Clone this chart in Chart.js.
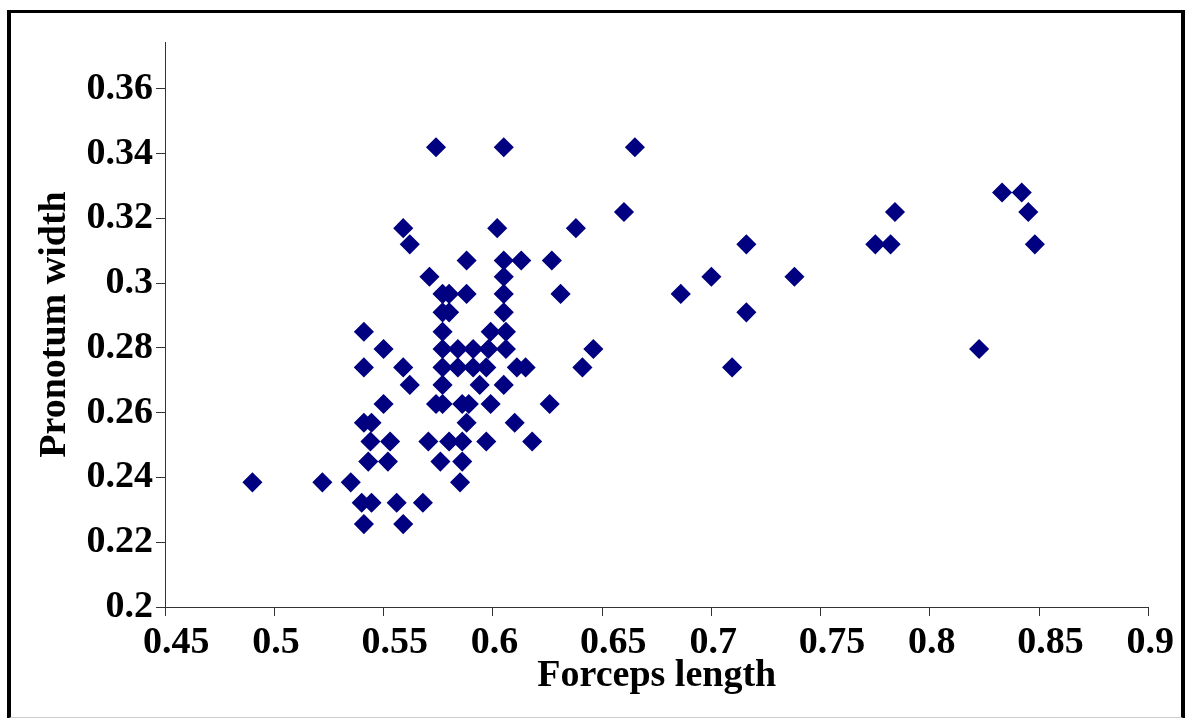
<!DOCTYPE html>
<html>
<head>
<meta charset="utf-8">
<script src="https://cdn.jsdelivr.net/npm/chart.js@4.4.1/dist/chart.umd.min.js"></script>
<style>
  html, body { margin: 0; padding: 0; background: #fff; }
  #wrap { position: relative; width: 1189px; height: 718px; overflow: hidden; }
  #frame {
    position: absolute; left: 7px; top: 10px; width: 1170px; height: 704px;
    border-left: 4px solid #000; border-top: 3px solid #000; border-right: 4px solid #000;
    border-bottom: 2px solid #ccc; pointer-events: none;
  }
</style>
</head>
<body>
<div id="wrap">
  <canvas id="scatter" width="1189" height="718"></canvas>
  <div id="frame"></div>
</div>
<script>
// values, paired by index
const forcepsLength = [
    0.574, 0.605, 0.665,
    0.660, 0.784, 0.845,
    0.833, 0.842,
    0.559, 0.602, 0.638,
    0.562, 0.716, 0.775, 0.782, 0.848,
    0.588, 0.605, 0.613, 0.627,
    0.571, 0.605, 0.700, 0.738,
    0.577, 0.580, 0.588, 0.605, 0.631, 0.686,
    0.577, 0.580, 0.605, 0.716,
    0.541, 0.577, 0.599, 0.606,
    0.550, 0.577, 0.584, 0.591, 0.598, 0.606, 0.646, 0.8225,
    0.541, 0.559, 0.577, 0.584, 0.591, 0.597, 0.611, 0.615, 0.641, 0.7095,
    0.562, 0.577, 0.594, 0.605,
    0.550, 0.574, 0.577, 0.586, 0.589, 0.599, 0.626,
    0.541, 0.5445, 0.588, 0.610,
    0.544, 0.553, 0.5705, 0.580, 0.586, 0.597, 0.618,
    0.543, 0.552, 0.576, 0.586,
    0.490, 0.522, 0.535, 0.585,
    0.540, 0.5445, 0.556, 0.568,
    0.541, 0.559
];
const pronotumWidth = [
    0.342, 0.342, 0.342,
    0.322, 0.322, 0.322,
    0.328, 0.328,
    0.317, 0.317, 0.317,
    0.312, 0.312, 0.312, 0.312, 0.312,
    0.307, 0.307, 0.307, 0.307,
    0.302, 0.302, 0.302, 0.302,
    0.2967, 0.2967, 0.2967, 0.2967, 0.2967, 0.2967,
    0.291, 0.291, 0.291, 0.291,
    0.285, 0.285, 0.285, 0.285,
    0.2797, 0.2797, 0.2797, 0.2797, 0.2797, 0.2797, 0.2797, 0.2797,
    0.274, 0.274, 0.274, 0.274, 0.274, 0.274, 0.274, 0.274, 0.274, 0.274,
    0.2686, 0.2686, 0.2686, 0.2686,
    0.2627, 0.2627, 0.2627, 0.2627, 0.2627, 0.2627, 0.2627,
    0.2569, 0.2569, 0.2569, 0.2569,
    0.2511, 0.2511, 0.2511, 0.2511, 0.2511, 0.2511, 0.2511,
    0.2449, 0.2449, 0.2449, 0.2449,
    0.2385, 0.2385, 0.2385, 0.2385,
    0.2322, 0.2322, 0.2322, 0.2322,
    0.2256, 0.2256
];

const xTicks = [0.45, 0.5, 0.55, 0.6, 0.65, 0.7, 0.75, 0.8, 0.85, 0.9];
const xTickLabels = ['0.45', '0.5', '0.55', '0.6', '0.65', '0.7', '0.75', '0.8', '0.85', '0.9'];
const yTicks = [0.2, 0.22, 0.24, 0.26, 0.28, 0.3, 0.32, 0.34, 0.36];
const yTickLabels = ['0.2', '0.22', '0.24', '0.26', '0.28', '0.3', '0.32', '0.34', '0.36'];

const points = forcepsLength.map((x, i) => ({ x: x, y: pronotumWidth[i] }));

const serif = "'Liberation Serif', 'Times New Roman', serif";

new Chart(document.getElementById('scatter'), {
    type: 'scatter',
    data: {
        datasets: [{
            data: points,
            pointStyle: 'rectRot',
            pointRadius: 9,
            borderWidth: 1.5,
            backgroundColor: '#000080',
            borderColor: '#000080'
        }]
    },
    options: {
        responsive: false,
        animation: false,
        layout: { padding: { top: 42, right: 40.5, left: 0, bottom: 0 } },
        plugins: { legend: { display: false }, tooltip: { enabled: false } },
        scales: {
            x: {
                type: 'linear',
                min: 0.45,
                max: 0.9,
                afterBuildTicks: axis => { axis.ticks = xTicks.map(v => ({ value: v })); },
                afterFit: axis => { axis.height = 111; axis.paddingLeft = 0; axis.paddingRight = 0; },
                grid: { drawOnChartArea: false, drawTicks: true, tickLength: 9, color: '#333' },
                border: { display: true, color: '#333', width: 1 },
                ticks: {
                    callback: (v, i) => xTickLabels[i],
                    autoSkip: false,
                    maxRotation: 0,
                    align: 'start',
                    labelOffset: -22,
                    padding: 4,
                    color: '#000',
                    font: { family: serif, size: 38, weight: 'bold' }
                },
                title: {
                    display: true,
                    text: 'Forceps length',
                    color: '#000',
                    padding: { top: 0, bottom: 19 },
                    font: { family: serif, size: 38, weight: 'bold' }
                }
            },
            y: {
                type: 'linear',
                min: 0.2,
                max: 0.3745,
                afterBuildTicks: axis => { axis.ticks = yTicks.map(v => ({ value: v })); },
                afterFit: axis => { axis.width = 165; axis.paddingTop = 0; axis.paddingBottom = 0; },
                grid: { drawOnChartArea: false, drawTicks: true, tickLength: 9, color: '#333' },
                border: { display: true, color: '#333', width: 1 },
                ticks: {
                    callback: (v, i) => yTickLabels[i],
                    autoSkip: false,
                    padding: 3,
                    color: '#000',
                    font: { family: serif, size: 38, weight: 'bold' }
                },
                title: {
                    display: true,
                    text: 'Pronotum width',
                    color: '#000',
                    padding: { top: 32, bottom: 0 },
                    font: { family: serif, size: 38, weight: 'bold' }
                }
            }
        }
    }
});
</script>
</body>
</html>
